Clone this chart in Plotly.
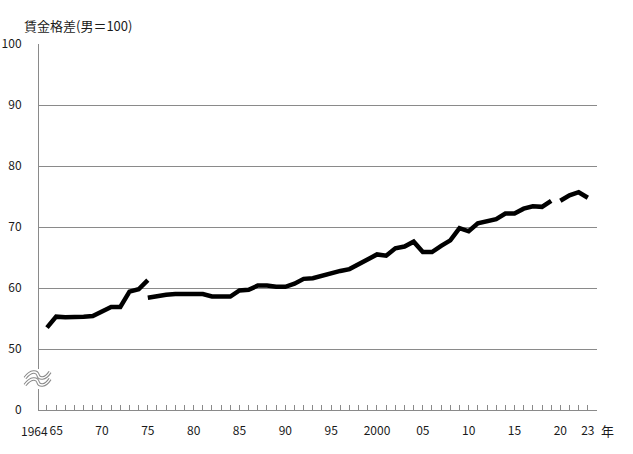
import plotly.graph_objects as go

# ---- data ----
years_a = list(range(1964, 1976))
gap_a = [53.5, 55.3, 55.2, 55.2, 55.3, 55.4, 56.1, 56.9, 56.9, 59.4, 59.8, 61.3]

years_b = list(range(1975, 2020))
gap_b = [58.4, 58.7, 58.9, 59.0, 59.0, 59.0, 59.0, 58.6, 58.6, 58.6,
         59.6, 59.7, 60.4, 60.4, 60.2, 60.2, 60.7, 61.5, 61.6, 62.0,
         62.5, 62.8, 63.1, 63.9, 64.6, 65.5, 65.3, 66.5, 66.8, 67.6,
         65.9, 65.9, 66.9, 67.8, 69.8, 69.3, 70.6, 70.9, 71.3, 72.2,
         72.2, 73.0, 73.4, 73.3, 74.3]

years_c = [2020, 2021, 2022, 2023]
gap_c = [74.3, 75.2, 75.7, 74.8]

x_tickvals = [1965, 1970, 1975, 1980, 1985, 1990, 1995, 2000, 2005, 2010, 2015, 2020, 2023]
x_ticktext = ["65", "70", "75", "80", "85", "90", "95", "2000", "05", "10", "15", "20", "23"]
y_tickvals = [40, 50, 60, 70, 80, 90, 100]
y_ticktext = ["0", "50", "60", "70", "80", "90", "100"]

title_text = "賃金格差(男＝100)"
unit_text = "年"
first_year_label = "1964"

# ---- layout geometry (pixels) ----
W, H = 633, 454
L, R, T, B = 39, 597, 44, 410
FONT = "Noto Sans CJK JP, Noto Sans, sans-serif"
TXT = "#1a1a1a"
GRID = "#8a8a8a"


def px(xp):
    return (xp - L) / (R - L)


def py(yp):
    return (B - yp) / (B - T)


fig = go.Figure()
for xs, ys in [(years_a, gap_a), (years_b, gap_b), (years_c, gap_c)]:
    fig.add_trace(go.Scatter(x=xs, y=ys, mode="lines",
                             line=dict(color="black", width=4.5),
                             hoverinfo="skip", showlegend=False))

fig.update_layout(
    width=W, height=H,
    margin=dict(l=L, r=W - R, t=T, b=H - B, autoexpand=False),
    paper_bgcolor="white", plot_bgcolor="white",
    font=dict(family=FONT, size=12, color=TXT),
    showlegend=False,
)

fig.update_xaxes(
    range=[1963.13, 2024.0],
    tickvals=x_tickvals, ticktext=x_ticktext,
    ticks="inside", ticklen=5, tickcolor=GRID, tickwidth=1,
    minor=dict(dtick=1, tick0=1964, ticks="inside", ticklen=5,
               tickcolor=GRID, tickwidth=1, showgrid=False),
    showgrid=False, zeroline=False,
    showline=True, linecolor=GRID, linewidth=1,
    ticklabelstandoff=10,
    tickfont=dict(size=12, color=TXT),
    automargin=False,
    fixedrange=True,
)
fig.update_yaxes(
    range=[40, 100],
    tickvals=y_tickvals, ticktext=y_ticktext,
    ticks="", showgrid=True, gridcolor=GRID, gridwidth=1,
    zeroline=False, showline=True, linecolor=GRID, linewidth=1,
    ticklabelstandoff=14,
    tickfont=dict(size=12, color=TXT),
    automargin=False,
    fixedrange=True,
)

# title and unit labels
fig.add_annotation(text=title_text, xref="paper", yref="paper",
                   x=px(22), y=py(25), xanchor="left", yanchor="middle",
                   showarrow=False, font=dict(size=13, color=TXT))
fig.add_annotation(text=unit_text, xref="paper", yref="paper",
                   x=px(607), y=py(430), xanchor="center", yanchor="middle",
                   showarrow=False, font=dict(size=13, color=TXT))
fig.add_annotation(text=first_year_label, xref="paper", yref="paper",
                   x=px(50), y=py(430), xanchor="right", yanchor="middle",
                   showarrow=False, font=dict(size=12, color=TXT))

# axis break symbol (≈)
fig.add_shape(type="rect", xref="paper", yref="paper",
              x0=px(35), x1=px(43), y0=py(369), y1=py(389),
              fillcolor="white", line=dict(width=0), layer="above")


def wave(y0):
    pts = [(25, y0 + 3), (31, y0 - 5), (37, y0 - 4), (38, y0), (39, y0 + 4),
           (45, y0 + 5), (50, y0 - 3)]
    (a, b), (c1x, c1y), (c2x, c2y), (mx, my), (d1x, d1y), (d2x, d2y), (ex, ey) = pts
    return (f"M {px(a)},{py(b)} C {px(c1x)},{py(c1y)} {px(c2x)},{py(c2y)} {px(mx)},{py(my)} "
            f"C {px(d1x)},{py(d1y)} {px(d2x)},{py(d2y)} {px(ex)},{py(ey)}")


for yc in (375, 382):
    fig.add_shape(type="path", xref="paper", yref="paper", path=wave(yc),
                  line=dict(color="#8a8a8a", width=3.4), layer="above")
    fig.add_shape(type="path", xref="paper", yref="paper", path=wave(yc),
                  line=dict(color="white", width=1.4), layer="above")

fig.write_html("out.html",
               config={"displayModeBar": False},
               post_script="document.body.style.margin='0';document.body.style.padding='0';")
